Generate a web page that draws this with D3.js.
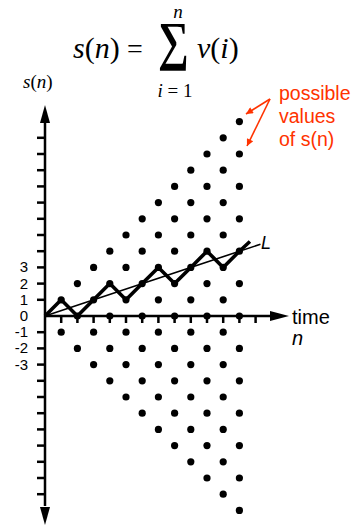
<!DOCTYPE html>
<html>
<head>
<meta charset="utf-8">
<script src="https://cdn.jsdelivr.net/npm/d3@7"></script>
<style>
  body { margin: 0; background: #fff; }
  svg text { font-family: "Liberation Sans", Arial, sans-serif; }
  svg text.serif { font-family: "Liberation Serif", "Times New Roman", "DejaVu Serif", serif; }
</style>
</head>
<body>
<div id="chart"></div>
<script>
// random walk: s values at n = 0..12, last entry is the partial step past n=12
const walkN = [0, 1, 2, 3, 4, 5, 6, 7, 8, 9, 10, 11, 12, 12.65];
const walkS = [0, 1, 0, 1, 2, 1, 2, 3, 2, 3, 4, 3, 4, 4.6];
// trend line L
const lineN = [0, 13.3];
const lineS = [0, 4.43];
const nMax = 12;
const yTickLabels = [3, 2, 1, 0, -1, -2, -3];
const yTicks = d3.range(-11, 12).filter(d => d !== 0);
const xTicks = d3.range(1, 14);
const noteLines = ["possible", "values", "of s(n)"];

const width = 360, height = 526;
const svg = d3.select("#chart").append("svg")
  .attr("width", width).attr("height", height);

const x = d3.scaleLinear().domain([0, 12]).range([45, 239.4]);
const y = d3.scaleLinear().domain([-12, 12]).range([510.4, 121.6]);

const defs = svg.append("defs");
defs.append("marker").attr("id", "arrRed")
  .attr("viewBox", "0 0 10 10").attr("refX", 10).attr("refY", 5)
  .attr("markerWidth", 9).attr("markerHeight", 7).attr("markerUnits", "userSpaceOnUse")
  .attr("orient", "auto")
  .append("path").attr("d", "M0,0L10,5L0,10z").attr("fill", "#ff3300");

// axes
const ax = svg.append("g").attr("stroke", "#000").attr("stroke-width", 2.5);
ax.append("line").attr("x1", x(0)).attr("x2", x(0)).attr("y1", 506).attr("y2", 123);
ax.append("line").attr("x1", x(0)).attr("x2", 272).attr("y1", y(0)).attr("y2", y(0));

// arrow heads
const heads = svg.append("g").attr("fill", "#000");
heads.append("path").attr("d", `M${x(0)},105L${x(0) - 5},123L${x(0) + 5},123z`);
heads.append("path").attr("d", `M${x(0)},525L${x(0) - 5},507L${x(0) + 5},507z`);
heads.append("path").attr("d", `M289,${y(0)}L270,${y(0) - 5}L270,${y(0) + 5}z`);

// ticks
ax.selectAll(".yt").data(yTicks).enter().append("line")
  .attr("x1", x(0) - 8).attr("x2", x(0)).attr("y1", d => y(d)).attr("y2", d => y(d));
ax.selectAll(".xt").data(xTicks).enter().append("line")
  .attr("x1", d => x(d)).attr("x2", d => x(d)).attr("y1", y(0)).attr("y2", y(0) + 7);

svg.selectAll(".ylab").data(yTickLabels).enter().append("text")
  .attr("x", 28).attr("y", d => y(d) + 5)
  .attr("text-anchor", "end").attr("font-size", 15).text(d => d);

// lattice of possible values
const pts = [];
for (let n = 1; n <= nMax; n++) {
  for (let s = -n; s <= n; s += 2) pts.push([n, s]);
}
svg.append("g").selectAll("circle").data(pts).enter().append("circle")
  .attr("cx", d => x(d[0])).attr("cy", d => y(d[1])).attr("r", 3.6).attr("fill", "#000");

// line L
svg.append("path")
  .datum(lineN.map((n, i) => [n, lineS[i]]))
  .attr("d", d3.line().x(d => x(d[0])).y(d => y(d[1])))
  .attr("stroke", "#000").attr("stroke-width", 1.6).attr("fill", "none");

// walk
svg.append("path")
  .datum(walkN.map((n, i) => [n, walkS[i]]))
  .attr("d", d3.line().x(d => x(d[0])).y(d => y(d[1])))
  .attr("stroke", "#000").attr("stroke-width", 3.6).attr("fill", "none")
  .attr("stroke-linejoin", "round");

// labels
svg.append("text").attr("x", 261).attr("y", 249).attr("font-size", 18)
  .attr("font-style", "italic").text("L");
svg.append("text").attr("x", 292).attr("y", 324).attr("font-size", 20).text("time");
svg.append("text").attr("x", 292).attr("y", 345).attr("font-size", 20)
  .attr("font-style", "italic").text("n");

// y axis title
const yt = svg.append("text").attr("class", "serif").attr("x", 23).attr("y", 88).attr("font-size", 19);
yt.append("tspan").attr("font-style", "italic").text("s");
yt.append("tspan").text("(");
yt.append("tspan").attr("font-style", "italic").text("n");
yt.append("tspan").text(")");

// formula
const f = svg.append("text").attr("class", "serif").attr("x", 73).attr("y", 58).attr("font-size", 30);
f.append("tspan").attr("font-style", "italic").text("s");
f.append("tspan").text("(");
f.append("tspan").attr("font-style", "italic").text("n");
f.append("tspan").text(")");
svg.append("text").attr("class", "serif").attr("x", 127).attr("y", 58).attr("font-size", 28).text("=");
svg.append("text").attr("class", "serif")
  .attr("transform", "translate(158,59) scale(0.8,1)")
  .attr("font-size", 54).attr("font-weight", "bold").text("\u2211");
const vi = svg.append("text").attr("class", "serif").attr("x", 197).attr("y", 58).attr("font-size", 30);
vi.append("tspan").attr("font-style", "italic").text("v");
vi.append("tspan").text("(");
vi.append("tspan").attr("font-style", "italic").text("i");
vi.append("tspan").text(")");
svg.append("text").attr("class", "serif").attr("x", 178).attr("y", 18).attr("font-size", 19)
  .attr("text-anchor", "middle").attr("font-style", "italic").text("n");
const il = svg.append("text").attr("class", "serif").attr("x", 175).attr("y", 97).attr("font-size", 19)
  .attr("text-anchor", "middle");
il.append("tspan").attr("font-style", "italic").text("i");
il.append("tspan").text(" = 1");

// note
svg.selectAll(".note").data(noteLines).enter().append("text")
  .attr("x", 279).attr("y", (d, i) => 100 + i * 23)
  .attr("font-size", 19.5).attr("fill", "#ff3300").text(d => d);
const arr = svg.append("g").attr("stroke", "#ff3300").attr("stroke-width", 1.6);
arr.append("line").attr("x1", 270).attr("y1", 99).attr("x2", 246).attr("y2", 114)
  .attr("marker-end", "url(#arrRed)");
arr.append("line").attr("x1", 270).attr("y1", 99).attr("x2", 247).attr("y2", 146)
  .attr("marker-end", "url(#arrRed)");
</script>
</body>
</html>
